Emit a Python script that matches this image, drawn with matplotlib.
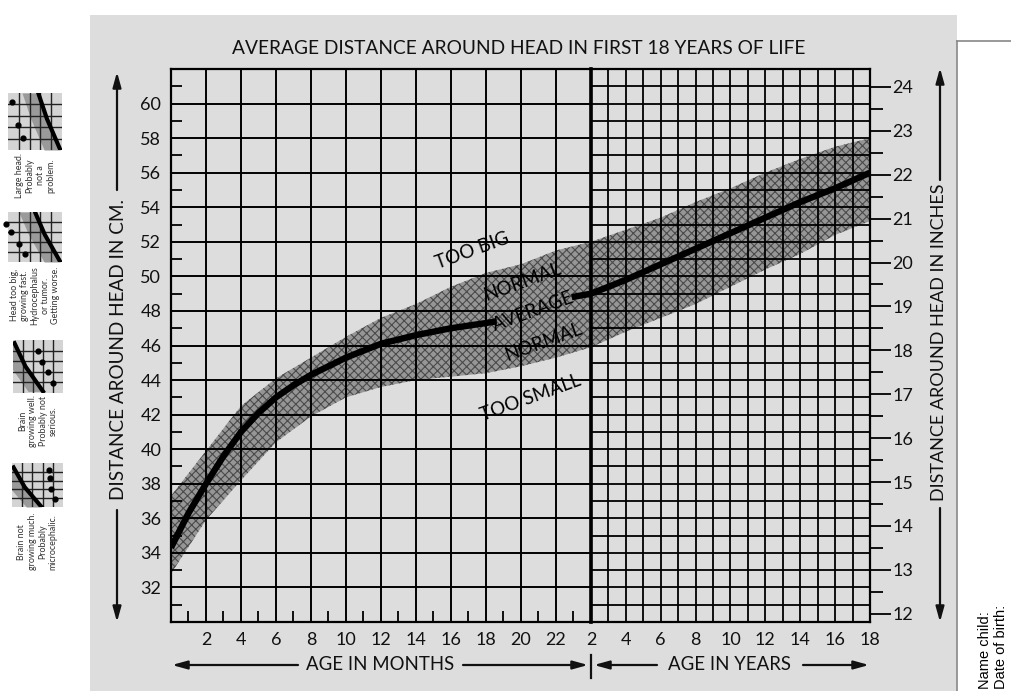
import matplotlib
matplotlib.use("Agg")
import matplotlib.pyplot as plt
from matplotlib.patches import Rectangle
from matplotlib.lines import Line2D

plt.rcParams['font.family'] = ['Lato', 'DejaVu Sans']
plt.rcParams['hatch.linewidth'] = 0.8

# ---- data ----
month_ticks = [2, 4, 6, 8, 10, 12, 14, 16, 18, 20, 22]
year_ticks = [2, 4, 6, 8, 10, 12, 14, 16, 18]
cm_ticks = [32, 34, 36, 38, 40, 42, 44, 46, 48, 50, 52, 54, 56, 58, 60]
inch_ticks = [12, 13, 14, 15, 16, 17, 18, 19, 20, 21, 22, 23, 24]

# average curve, first 2 years (months)
avg_m = [0, 1, 2, 3, 4, 5, 6, 7, 8, 10, 12, 14, 16, 18, 18.6]
avg_m_cm = [34.3, 36.3, 38.0, 39.6, 41.0, 42.1, 43.0, 43.7, 44.3, 45.3, 46.1, 46.6, 47.0, 47.3, 47.4]
avg_m2 = [22.9, 24]
avg_m2_cm = [48.8, 49.0]
# average curve, 2-18 years
avg_y = [2, 4, 6, 8, 10, 12, 14, 16, 18]
avg_y_cm = [49.0, 49.8, 50.7, 51.6, 52.5, 53.4, 54.3, 55.1, 56.0]

# normal band
band_m = [0, 2, 4, 6, 8, 10, 12, 14, 16, 18, 20, 22, 24]
band_m_lo = [32.8, 35.9, 38.2, 40.4, 41.9, 43.0, 43.6, 44.0, 44.2, 44.4, 44.8, 45.3, 45.9]
band_m_hi = [37.3, 39.9, 42.5, 44.1, 45.3, 46.5, 47.6, 48.4, 49.4, 50.2, 50.7, 51.5, 52.0]
band_y = [2, 4, 6, 8, 10, 12, 14, 16, 18]
band_y_lo = [45.9, 46.8, 47.6, 48.4, 49.4, 50.4, 51.3, 52.4, 53.2]
band_y_hi = [52.0, 52.7, 53.4, 54.3, 55.1, 56.0, 56.8, 57.5, 58.0]

zone_labels = ['TOO BIG', 'NORMAL', 'AVERAGE', 'NORMAL', 'TOO SMALL']
zone_x = [17.2, 20.1, 20.7, 21.3, 20.55]
zone_y = [51.5, 49.7, 48.0, 46.2, 43.0]

# little example charts on the left margin
icon_text = ['Large head.\nProbably\nnot a\nproblem.',
             'Head too big,\ngrowing fast.\nHydrocephalus\nor tumor.\nGetting worse.',
             'Brain\ngrowing well.\nProbably not\nserious.',
             'Brain not\ngrowing much.\nProbably\nmicrocephalic.']
icon_curve_x = [[0.56, 0.72, 0.97], [0.5, 0.68, 0.97], [0.03, 0.25, 0.6], [0.03, 0.25, 0.58]]
icon_curve_y = [[1.0, 0.55, 0.0], [1.0, 0.55, 0.0], [0.94, 0.5, 0.03], [0.9, 0.45, 0.0]]
icon_dot_x = [[0.08, 0.19, 0.27], [-0.03, 0.06, 0.2, 0.31], [0.5, 0.59, 0.7, 0.8], [0.73, 0.74, 0.77, 0.84]]
icon_dot_y = [[0.84, 0.43, 0.21], [0.77, 0.6, 0.37, 0.17], [0.8, 0.58, 0.39, 0.19], [0.85, 0.65, 0.42, 0.19]]

W, H = 1012, 691
PAPER = '#dddddd'
BAND = '#969696'
INK = '#111111'


def fx(x):
    return x / W


def fy(y):
    return 1 - y / H


def box(x0, y0, x1, y1):
    return [fx(x0), fy(y1), fx(x1) - fx(x0), fy(y0) - fy(y1)]


fig = plt.figure(figsize=(W / 100, H / 100), dpi=100)
fig.patch.set_facecolor('white')
fig.patches.append(Rectangle((fx(90), fy(691)), fx(957) - fx(90), fy(15) - fy(691),
                             transform=fig.transFigure, facecolor=PAPER, edgecolor='none', zorder=-5))
fig.lines.append(Line2D([fx(957), fx(957)], [fy(41), fy(691)], transform=fig.transFigure, color='#888888', lw=1.2))
fig.lines.append(Line2D([fx(957), fx(1012)], [fy(41), fy(41)], transform=fig.transFigure, color='#888888', lw=1.2))

axM = fig.add_axes(box(171, 69, 591, 622))
axY = fig.add_axes(box(591, 69, 870, 622))
for ax in (axM, axY):
    ax.set_facecolor('none')
    ax.set_ylim(30, 62)
    for s in ax.spines.values():
        s.set_linewidth(1.6)
axM.set_xlim(0, 24)
axY.set_xlim(2, 18)

# months panel grid
axM.set_xticks(month_ticks)
axM.set_yticks(cm_ticks)
axM.set_xticks(range(1, 24, 2), minor=True)
axM.set_yticks(range(31, 62, 2), minor=True)
axM.grid(True, which='major', color='black', lw=1.4)
axM.tick_params(which='major', length=0, labelsize=13, pad=7, labelcolor=INK)
axM.tick_params(which='minor', direction='in', length=8, width=1.3)
axM.tick_params(axis='x', which='minor', top=False)
axM.tick_params(axis='y', which='minor', right=False)

# years panel grid
axY.set_xticks(year_ticks)
axY.set_xticks(range(3, 18), minor=True)
axY.set_yticks(range(31, 62), minor=True)
axY.set_yticks([])
axY.grid(True, which='both', color='black', lw=1.3)
axY.tick_params(which='both', length=0, labelsize=13, pad=7, labelcolor=INK)
axY.spines['left'].set_linewidth(2.6)

sec = axY.secondary_yaxis('right', functions=(lambda c: c / 2.54, lambda i: i * 2.54))
sec.set_yticks(inch_ticks)
sec.set_yticks([v + 0.5 for v in inch_ticks[:-1]], minor=True)
sec.tick_params(which='major', length=15, width=1.3, pad=1, labelsize=13, labelcolor=INK)
sec.tick_params(which='minor', length=9, width=1.3)
sec.spines['right'].set_visible(False)

# normal band
axM.fill_between(band_m, band_m_lo, band_m_hi, facecolor=BAND, edgecolor='#4a4a4a',
                 hatch='xxxx', lw=0, zorder=1.5)
axY.fill_between(band_y, band_y_lo, band_y_hi, facecolor=BAND, edgecolor='#4a4a4a',
                 hatch='xxxx', lw=0, zorder=1.5)

# average line
axM.plot(avg_m, avg_m_cm, color='black', lw=4.6, solid_capstyle='butt', zorder=3)
axM.plot(avg_m2, avg_m2_cm, color='black', lw=4.6, solid_capstyle='butt', zorder=3)
axY.plot(avg_y, avg_y_cm, color='black', lw=4.6, solid_capstyle='butt', zorder=3)

for lab, x, y in zip(zone_labels, zone_x, zone_y):
    axM.text(x, y, lab, rotation=20, ha='center', va='center', rotation_mode='anchor',
             fontsize=13.5, color='black', zorder=4, clip_on=False)

# titles and axis captions
fig.text(fx(519), fy(48), 'AVERAGE DISTANCE AROUND HEAD IN FIRST 18 YEARS OF LIFE',
         ha='center', va='center', fontsize=13.8, color=INK)
fig.text(fx(119), fy(350), 'DISTANCE AROUND HEAD IN CM.', rotation=90,
         ha='center', va='center', fontsize=13.6, color=INK)
fig.text(fx(939), fy(342), 'DISTANCE AROUND HEAD IN INCHES', rotation=90,
         ha='center', va='center', fontsize=13, color=INK)
fig.text(fx(380), fy(665), 'AGE IN MONTHS', ha='center', va='center', fontsize=13.4, color=INK)
fig.text(fx(729), fy(665), 'AGE IN YEARS', ha='center', va='center', fontsize=13.4, color=INK)


def arrow(x0, y0, x1, y1):
    fig.add_artist(plt.Annotation('', xy=(fx(x1), fy(y1)), xytext=(fx(x0), fy(y0)),
                                  xycoords='figure fraction', textcoords='figure fraction',
                                  arrowprops=dict(arrowstyle='-|>,head_length=0.9,head_width=0.25',
                                                  color=INK, lw=1.6, shrinkA=0, shrinkB=0)))


arrow(117, 190, 117, 72)
arrow(117, 510, 117, 622)
arrow(940, 180, 940, 68)
arrow(940, 508, 940, 622)
arrow(298, 665, 172, 665)
arrow(463, 665, 588, 665)
arrow(657, 665, 594, 665)
arrow(803, 665, 869, 665)
fig.lines.append(Line2D([fx(591), fx(591)], [fy(655), fy(678)], transform=fig.transFigure, color=INK, lw=1.6))

# side notes
fig.text(fx(985), fy(689), 'Name child:', rotation=90, ha='center', va='bottom',
         fontsize=10.5, family='Liberation Sans')
fig.text(fx(1001), fy(689), 'Date of birth:', rotation=90, ha='center', va='bottom',
         fontsize=10.5, family='Liberation Sans')

# small example charts
icon_boxes = [(8, 93, 62, 150), (8, 212, 62, 262), (13, 340, 63, 393), (12, 463, 63, 507)]
text_tops = [153, 266, 395, 513]
for i, (x0, y0, x1, y1) in enumerate(icon_boxes):
    ic = fig.add_axes(box(x0, y0, x1, y1))
    ic.set_xlim(0, 1)
    ic.set_ylim(0, 1)
    ic.set_facecolor('#d4d4d4')
    for v in (0.2, 0.4, 0.6, 0.8):
        ic.axvline(v, color='#222222', lw=1.0)
        ic.axhline(v, color='#222222', lw=1.0)
    cx, cy = icon_curve_x[i], icon_curve_y[i]
    ic.fill_betweenx(cy, [c - 0.3 for c in cx], cx, color='#9a9a9a', lw=0, zorder=1.5)
    ic.plot(cx, cy, color='black', lw=3, zorder=3)
    ic.scatter(icon_dot_x[i], icon_dot_y[i], s=12, color='black', zorder=4, clip_on=False)
    ic.set_xticks([])
    ic.set_yticks([])
    for s in ic.spines.values():
        s.set_visible(False)
    fig.text(fx((x0 + x1) / 2), fy(text_tops[i]), icon_text[i], rotation=90, ha='center', va='top',
             fontsize=6.4, linespacing=1.2, color='#333333')

fig.savefig('out.png', dpi=100)
